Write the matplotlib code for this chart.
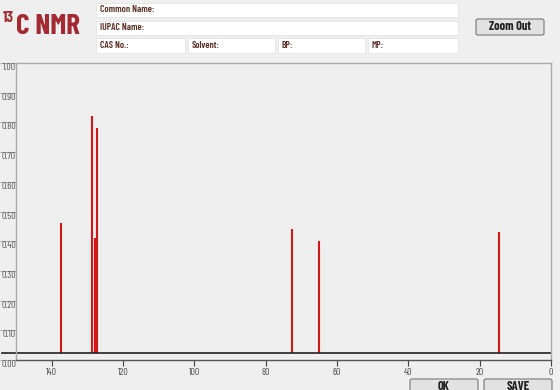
import matplotlib.pyplot as plt
from matplotlib.patches import Rectangle, FancyBboxPatch

# peak list
shifts = [137.5, 128.6, 127.8, 127.2, 72.6, 65.1, 14.6]
intens = [0.46, 0.82, 0.41, 0.78, 0.44, 0.40, 0.43]
baseline = 0.024
xticks = [140, 120, 100, 80, 60, 40, 20, 0]
yticks = [0.0, 0.1, 0.2, 0.3, 0.4, 0.5, 0.6, 0.7, 0.8, 0.9, 1.0]

narrow = ['Barlow Condensed', 'DejaVu Sans']
bg = '#efefef'

fig = plt.figure(figsize=(5.6, 3.9), dpi=100, facecolor=bg)
ax = fig.add_axes([16 / 560, 30 / 390, 535 / 560, 297 / 390], facecolor=bg)

ax.vlines(shifts, baseline, intens, color='#d01818', lw=1.5)
ax.axhline(baseline, xmin=-14 / 535, xmax=1, color='#222222', lw=1.2, clip_on=False)

ax.set_xlim(150, 0)
ax.set_ylim(0, 1)
ax.set_xticks(xticks)
ax.set_xticklabels([str(t) for t in xticks], fontsize=7, color='#4a4a4a', family=narrow)
ax.set_yticks(yticks)
ax.set_yticklabels([f'{t:.2f}' for t in yticks], fontsize=7, color='#555555',
                   family=narrow, va='top')
ax.tick_params(axis='x', length=4, width=0.8, color='#444444', pad=2)
ax.tick_params(axis='y', length=11.5, width=0.8, color='#aaaaaa', pad=-11.5)
for s in ax.spines.values():
    s.set_color('#aaaaaa')
    s.set_linewidth(1.0)
ax.spines['bottom'].set_color('#555555')

# header
fig.text(3 / 560, 1 - 22 / 390, '13', fontsize=11, color='#a32a30', weight='bold', family=narrow)
fig.text(16 / 560, 1 - 34 / 390, 'C NMR', fontsize=21, color='#a32a30', weight='bold', family=narrow)

boxes = [
    (96, 3, 362, 14, 'Common Name:'),
    (96, 21, 362, 14, 'IUPAC Name:'),
    (96, 38, 89, 15, 'CAS No.:'),
    (188, 38, 87, 15, 'Solvent:'),
    (278, 38, 87, 15, 'BP:'),
    (368, 38, 90, 15, 'MP:'),
]
for x, y, w, h, lab in boxes:
    fig.patches.append(Rectangle((x / 560, 1 - (y + h) / 390), w / 560, h / 390,
                                 transform=fig.transFigure, facecolor='white',
                                 edgecolor='#e4e4e4', lw=0.6))
    fig.text((x + 4) / 560, 1 - (y + h / 2) / 390, lab, fontsize=7, color='#5a2e22',
             weight='semibold', family=narrow, va='center')

buttons = [
    (476, 19, 68, 16, 'Zoom Out'),
    (410, 379, 68, 16, 'OK'),
    (484, 379, 68, 16, 'SAVE'),
]
for x, y, w, h, lab in buttons:
    fig.patches.append(FancyBboxPatch((x / 560, 1 - (y + h) / 390), w / 560, h / 390,
                                      boxstyle='round,pad=0,rounding_size=0.004',
                                      transform=fig.transFigure, facecolor='#e2e2e2',
                                      edgecolor='#777777', lw=0.8))
    fig.text((x + w / 2) / 560, 1 - (y + h / 2) / 390, lab, fontsize=9, color='#222222',
             weight='bold', family=narrow, ha='center', va='center')

fig.savefig('out.png', dpi=100, facecolor=bg)
